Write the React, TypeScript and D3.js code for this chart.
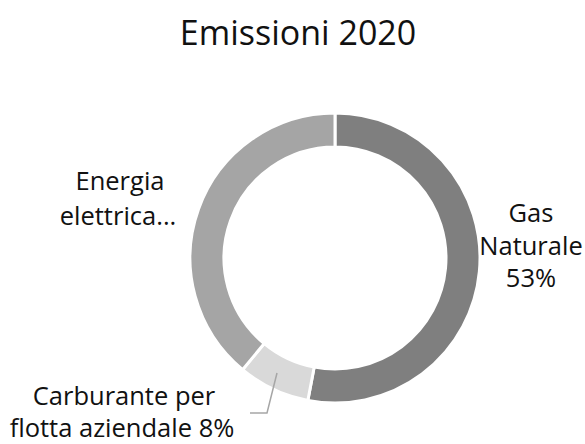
import React from "react";
import * as d3 from "d3";

const categories = ["Gas Naturale", "Carburante per flotta aziendale", "Energia elettrica"];
const values = [53, 8, 39];
const colors = ["#7f7f7f", "#d9d9d9", "#a5a5a5"];
const title = "Emissioni 2020";

const W = 585, H = 444;
const cx = 335, cy = 258, rOuter = 145, rInner = 111;
const FONT = "'Open Sans', 'Noto Sans', sans-serif";

export default function App() {
  const pie = d3.pie<number>().sort(null).value((d) => d)(values);
  const arc = d3.arc<d3.PieArcDatum<number>>().innerRadius(rInner).outerRadius(rOuter);
  const leader = d3.line()([[277, 373], [267, 413], [250, 413]]);
  return (
    <svg width={W} height={H} style={{ position: "absolute", left: 0, top: 0, background: "#fff" }}>
      <rect width={W} height={H} fill="#fff" />
      <text x={298} y={45} textAnchor="middle" fontFamily={FONT} fontSize={34} fill="#111">{title}</text>
      <g transform={`translate(${cx},${cy})`}>
        {pie.map((p, i) => (
          <path key={categories[i]} d={arc(p) || ""} fill={colors[i]} stroke="#fff" strokeWidth={3} />
        ))}
      </g>
      <path d={leader || ""} fill="none" stroke="#a6a6a6" strokeWidth={1.5} />
      <g fontFamily={FONT} fontSize={25.5} fill="#111" textAnchor="middle">
        <text x={120} y={190}>Energia</text>
        <text x={118} y={225}>elettrica...</text>
        <text x={531} y={222}>Gas</text>
        <text x={531} y={255}>Naturale</text>
        <text x={531} y={287}>{values[0]}%</text>
        <text x={124} y={405}>Carburante per</text>
        <text x={122} y={437}>{`flotta aziendale ${values[1]}%`}</text>
      </g>
    </svg>
  );
}
